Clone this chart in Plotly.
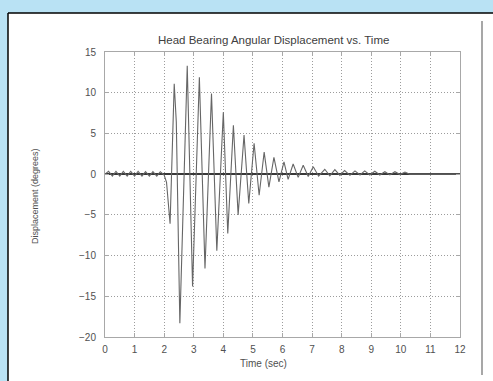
import plotly.graph_objects as go

# Time (sec) and displacement (degrees)
time_s = [0.00, 0.12, 0.25, 0.37, 0.50, 0.62, 0.75, 0.87, 1.00, 1.12, 1.25, 1.37,
          1.50, 1.62, 1.75, 1.87, 2.00, 2.08, 2.20, 2.34, 2.41, 2.53, 2.78, 2.96,
          3.19, 3.38, 3.60, 3.78, 4.00, 4.15, 4.34, 4.50, 4.70, 4.86, 5.04, 5.21,
          5.38, 5.54, 5.71, 5.88, 6.05, 6.19, 6.36, 6.53, 6.70, 6.87, 7.04, 7.22,
          7.43, 7.60, 7.77, 7.94, 8.10, 8.28, 8.45, 8.62, 8.78, 8.95, 9.12, 9.29,
          9.46, 9.63, 9.80, 9.97, 10.14, 10.30, 10.40, 12.00]
displacement_deg = [0.0, 0.35, -0.25, 0.35, -0.25, 0.35, -0.25, 0.35, -0.25, 0.35, -0.25, 0.3,
                    -0.25, 0.3, -0.25, 0.3, -0.1, -1.0, -6.1, 11.1, 6.4, -18.3, 13.3, -13.8,
                    11.9, -11.6, 9.9, -9.4, 7.6, -7.3, 6.0, -5.0, 4.8, -3.6, 3.8, -2.6,
                    2.7, -1.6, 2.05, -0.95, 1.5, -0.65, 1.25, -0.4, 1.1, -0.3, 0.9, -0.25,
                    0.6, -0.2, 0.55, -0.15, 0.45, -0.15, 0.4, -0.1, 0.4, -0.1, 0.35, -0.1,
                    0.3, -0.1, 0.3, -0.05, 0.25, 0.0, 0.0, 0.0]

x_ticks = [0, 1, 2, 3, 4, 5, 6, 7, 8, 9, 10, 11, 12]
y_ticks = [-20, -15, -10, -5, 0, 5, 10, 15]

title_text = "Head Bearing Angular Displacement vs. Time"
x_label = "Time (sec)"
y_label = "Displacement (degrees)"

W, H = 493, 381
L, R, T, B = 105, 33, 52, 44
pw, ph = W - L - R, H - T - B

def px_x(p):
    return (p - L) / pw

def px_y(p):
    return (H - B - p) / ph

FONT = "Liberation Sans, Arial, sans-serif"

fig = go.Figure()
fig.add_trace(go.Scatter(x=time_s, y=displacement_deg, mode="lines",
                         line=dict(color="#666666", width=1.1), showlegend=False))

axis_common = dict(showline=True, linecolor="#a8a8a8", linewidth=1, mirror="ticks",
                   ticks="inside", ticklen=4, tickcolor="#a8a8a8",
                   showgrid=True, gridcolor="#9c9c9c", griddash="1px,2px", gridwidth=1,
                   tickfont=dict(family=FONT, size=10, color="#505050"))

fig.update_xaxes(range=[0, 12], tickvals=x_ticks, zeroline=False,
                 ticklabelstandoff=3, **axis_common)
fig.update_yaxes(range=[-20, 15], tickvals=y_ticks, zeroline=True,
                 zerolinecolor="#383838", zerolinewidth=1.5,
                 ticklabelstandoff=6, **axis_common)

shapes = [
    # white panel
    dict(type="rect", xref="paper", yref="paper", x0=px_x(8), x1=px_x(500),
         y0=px_y(390), y1=px_y(13), fillcolor="white", line=dict(width=0), layer="below"),
    # black top/left border
    dict(type="line", xref="paper", yref="paper", x0=px_x(8), x1=px_x(500),
         y0=px_y(13), y1=px_y(13), line=dict(color="black", width=1.5), layer="below"),
    dict(type="line", xref="paper", yref="paper", x0=px_x(8), x1=px_x(8),
         y0=px_y(13), y1=px_y(390), line=dict(color="black", width=1.5), layer="below"),
    # gray vertical divider on right
    dict(type="line", xref="paper", yref="paper", x0=px_x(482), x1=px_x(482),
         y0=px_y(21), y1=px_y(375), line=dict(color="#8a8a8a", width=1.5), layer="below"),
]

annotations = [
    dict(text=title_text, xref="paper", yref="paper", x=px_x(273), y=px_y(40),
         xanchor="center", yanchor="middle", showarrow=False,
         font=dict(family=FONT, size=11.5, color="#404040")),
    dict(text=x_label, xref="paper", yref="paper", x=px_x(263), y=px_y(363),
         xanchor="center", yanchor="middle", showarrow=False,
         font=dict(family=FONT, size=10, color="#505050")),
    dict(text=y_label, xref="paper", yref="paper", x=px_x(35), y=px_y(196),
         xanchor="center", yanchor="middle", showarrow=False, textangle=-90,
         font=dict(family=FONT, size=9, color="#505050")),
]

fig.update_layout(width=W, height=H, margin=dict(l=L, r=R, t=T, b=B),
                  paper_bgcolor="#b9e2f4", plot_bgcolor="white",
                  shapes=shapes, annotations=annotations, showlegend=False)

fig.write_html("out.html", config={"displayModeBar": False},
               post_script="document.body.style.margin='0';document.body.style.overflow='hidden';")
